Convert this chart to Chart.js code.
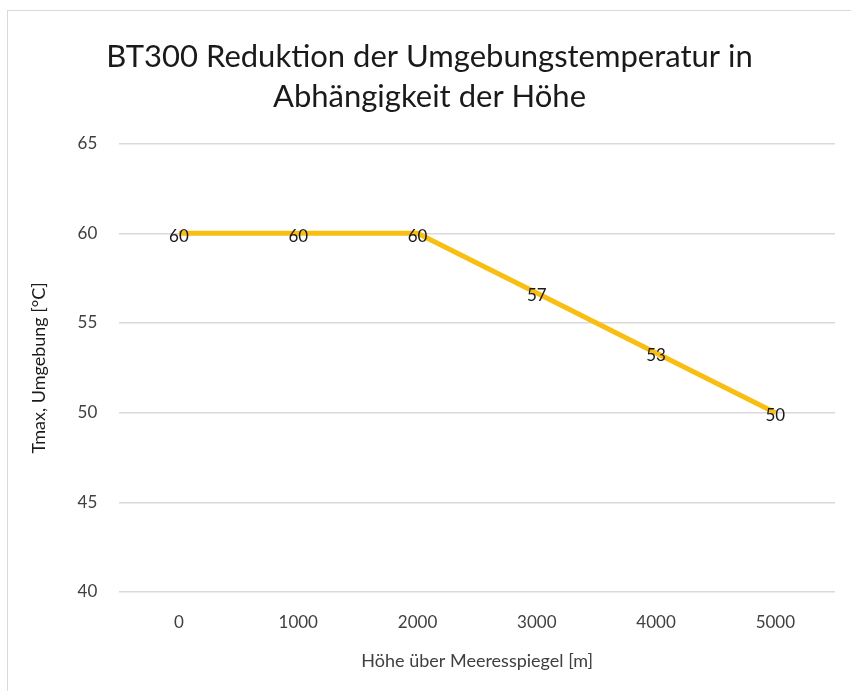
<!DOCTYPE html>
<html>
<head>
<meta charset="utf-8">
<script src="https://cdn.jsdelivr.net/npm/chart.js@4"></script>
<style>
  html, body { margin: 0; padding: 0; background: #fff; }
  body { width: 851px; height: 691px; position: relative; overflow: hidden; }
  #frame { position: absolute; left: 7px; top: 10px; width: 900px; height: 760px; border: 1px solid #d9d9d9; }
  #wrap { position: absolute; left: 0; top: 0; width: 851px; height: 691px; }
</style>
</head>
<body>
<div id="frame"></div>
<div id="wrap"><canvas id="chart"></canvas></div>
<script>
// --- Data ---
const heights = ['0', '1000', '2000', '3000', '4000', '5000'];
const tmax = [60, 60, 60, 56.67, 53.33, 50];
const titleLines = ['BT300 Reduktion der Umgebungstemperatur in', 'Abhängigkeit der Höhe'];
const xTitle = 'Höhe über Meeresspiegel [m]';
const yTitle = 'Tmax, Umgebung [°C]';

const FONT = 'Lato, "Open Sans", sans-serif';

// simple value labels centred on each point
const pointLabels = {
  id: 'pointLabels',
  afterDatasetsDraw(chart) {
    const ctx = chart.ctx;
    const meta = chart.getDatasetMeta(0);
    ctx.save();
    ctx.font = '17px ' + FONT;
    ctx.fillStyle = '#1a1a1a';
    ctx.textAlign = 'center';
    ctx.textBaseline = 'middle';
    meta.data.forEach((pt, i) => {
      ctx.fillText(Math.round(tmax[i]), pt.x, pt.y + 3);
    });
    ctx.restore();
  }
};

new Chart(document.getElementById('chart'), {
  type: 'line',
  data: {
    labels: heights,
    datasets: [{
      data: tmax,
      borderColor: '#f9be12',
      borderWidth: 5,
      pointRadius: 0,
      tension: 0
    }]
  },
  options: {
    responsive: true,
    maintainAspectRatio: false,
    animation: false,
    layout: { padding: { left: 24, right: 16, top: 37, bottom: 15 } },
    plugins: {
      legend: { display: false },
      tooltip: { enabled: false },
      title: {
        display: true,
        text: titleLines,
        color: '#1a1a1a',
        font: { family: FONT, size: 31, weight: 'normal', lineHeight: 1.3 },
        padding: { top: 0, bottom: 26 }
      }
    },
    scales: {
      x: {
        offset: true,
        grid: { display: false },
        border: { display: false },
        ticks: { color: '#404040', font: { family: FONT, size: 17 }, padding: 12 },
        title: { display: true, text: xTitle, color: '#404040', font: { family: FONT, size: 18 }, padding: { top: 6 } }
      },
      y: {
        min: 40,
        max: 65,
        ticks: { stepSize: 5, color: '#404040', font: { family: FONT, size: 17 }, padding: 22 },
        grid: { color: '#d9d9d9', lineWidth: 1.5, drawTicks: false },
        border: { display: false },
        title: { display: true, text: yTitle, color: '#1a1a1a', font: { family: FONT, size: 18 }, padding: { bottom: 6 } }
      }
    }
  },
  plugins: [pointLabels]
});
</script>
</body>
</html>
